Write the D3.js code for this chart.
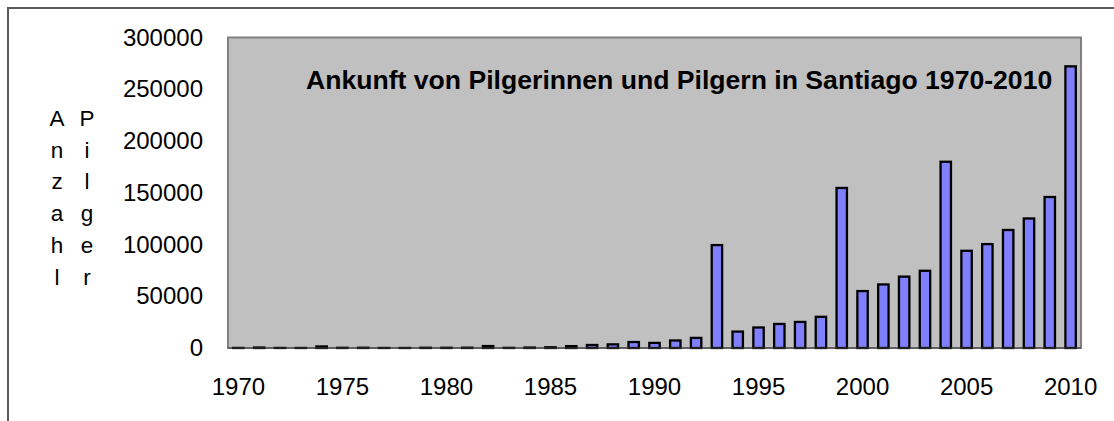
<!DOCTYPE html>
<html>
<head>
<meta charset="utf-8">
<script src="https://cdn.jsdelivr.net/npm/d3@7"></script>
<style>
  html, body { margin: 0; padding: 0; background: #fff; }
  svg { display: block; font-family: "Liberation Sans", Arial, sans-serif; }
</style>
</head>
<body>
<div id="chart"></div>
<script>
// data
const years = d3.range(1970, 2011);
const pilgrims = [
  68, 451, 67, 36, 1500, 200, 243, 31, 13, 231,
  209, 299, 1868, 146, 423, 690, 1801, 2905, 3501, 5760,
  4918, 7274, 9764, 99436, 15863, 19821, 23218, 25179, 30126, 154613,
  55004, 61418, 68952, 74614, 179944, 93924, 100377, 114026, 125141, 145877,
  272135
];
const yTicks = [0, 50000, 100000, 150000, 200000, 250000, 300000];
const xTickYears = [1970, 1975, 1980, 1985, 1990, 1995, 2000, 2005, 2010];
const title = "Ankunft von Pilgerinnen und Pilgern in Santiago 1970-2010";
const yTitleCols = ["Anzahl", "Pilger"];

const width = 1114, height = 421;
const plot = {left: 228, right: 1081, top: 37.5, bottom: 348};

const svg = d3.select("#chart").append("svg")
  .attr("width", width)
  .attr("height", height);

// outer frame
svg.append("rect")
  .attr("x", 8).attr("y", 8)
  .attr("width", 1200).attr("height", 600)
  .attr("fill", "none")
  .attr("stroke", "#5a5a5a")
  .attr("stroke-width", 2);

const x = d3.scaleBand()
  .domain(years)
  .range([plot.left, plot.right])
  .paddingInner(0.5)
  .paddingOuter(0.25);

const y = d3.scaleLinear()
  .domain([0, 300000])
  .range([plot.bottom, plot.top]);

// plot area
svg.append("rect")
  .attr("x", plot.left).attr("y", plot.top)
  .attr("width", plot.right - plot.left)
  .attr("height", plot.bottom - plot.top)
  .attr("fill", "#c0c0c0")
  .attr("stroke", "#808080")
  .attr("stroke-width", 2);

// bars
svg.selectAll("rect.bar")
  .data(pilgrims)
  .join("rect")
  .attr("class", "bar")
  .attr("x", (d, i) => x(years[i]))
  .attr("width", x.bandwidth())
  .attr("y", d => y(d))
  .attr("height", d => y(0) - y(d))
  .attr("fill", "#8080ff")
  .attr("stroke", "#000")
  .attr("stroke-width", 2.3);

// baseline
svg.append("line")
  .attr("x1", plot.left).attr("x2", plot.right)
  .attr("y1", y(0)).attr("y2", y(0))
  .attr("stroke", "#404040")
  .attr("stroke-width", 1);

// y axis
const yAxis = svg.append("g")
  .attr("transform", `translate(${plot.left},0)`)
  .call(d3.axisLeft(y).tickValues(yTicks).tickSize(0).tickPadding(25).tickFormat(d3.format("d")));
yAxis.select(".domain").remove();
yAxis.selectAll("text")
  .attr("font-size", 24)
  .attr("font-family", "'Liberation Sans', Arial, sans-serif")
  .attr("fill", "#000");

// x axis
const xAxis = svg.append("g")
  .attr("transform", `translate(0,${plot.bottom})`)
  .call(d3.axisBottom(x).tickValues(xTickYears).tickSize(0).tickPadding(30));
xAxis.select(".domain").remove();
xAxis.selectAll("text")
  .attr("font-size", 24)
  .attr("font-family", "'Liberation Sans', Arial, sans-serif")
  .attr("fill", "#000");

// title inside plot
svg.append("text")
  .attr("x", 306)
  .attr("y", 89)
  .attr("font-size", 26.6)
  .attr("font-weight", "bold")
  .attr("fill", "#000")
  .text(title);

// y title, stacked letters in two columns
yTitleCols.forEach((word, c) => {
  svg.append("g").selectAll("text")
    .data(word.split(""))
    .join("text")
    .attr("x", 57 + c * 30)
    .attr("y", (d, i) => 118 + i * 31.8)
    .attr("dy", "0.35em")
    .attr("text-anchor", "middle")
    .attr("font-size", 22.5)
    .attr("fill", "#000")
    .text(d => d);
});
</script>
</body>
</html>
